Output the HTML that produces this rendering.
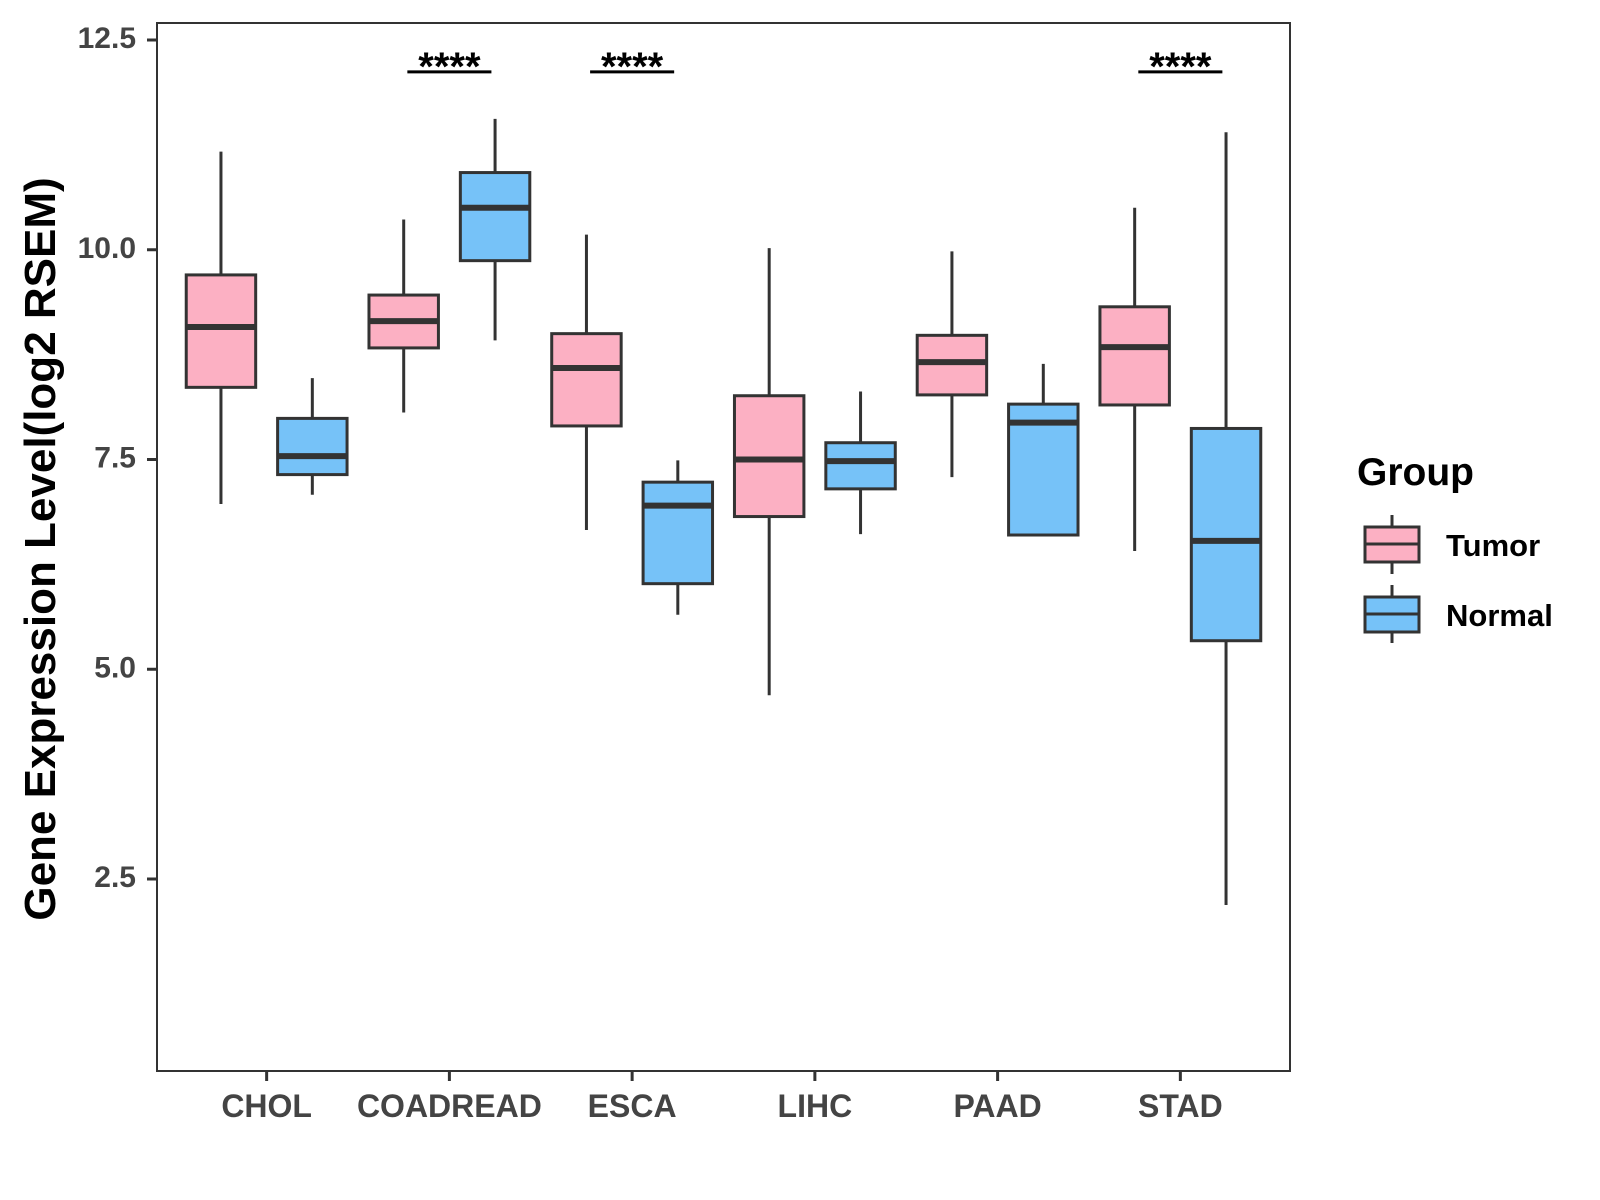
<!DOCTYPE html>
<html><head><meta charset="utf-8"><style>
html,body{margin:0;padding:0;background:#fff;}
svg{display:block;font-family:"Liberation Sans",Arial,sans-serif;}
</style></head><body>
<svg id="chart" width="1600" height="1200" viewBox="0 0 1600 1200" xmlns="http://www.w3.org/2000/svg">
<rect x="0" y="0" width="1600" height="1200" fill="#fff"/>
<g id="marks"></g>
<rect x="157" y="23" width="1133" height="1048" fill="none" stroke="#333" stroke-width="2"/>
<g id="axes"></g>
<text transform="translate(55,549) rotate(-90)" text-anchor="middle" font-size="44" font-weight="bold" fill="#000">Gene Expression Level(log2 RSEM)</text>
<text x="1357" y="485" font-size="39" font-weight="bold" fill="#000">Group</text>
<g>
<line x1="1392" x2="1392" y1="515" y2="574" stroke="#333" stroke-width="3"/>
<rect x="1365" y="527" width="54" height="35" fill="#fcb0c3" stroke="#333" stroke-width="3"/>
<line x1="1365" x2="1419" y1="544" y2="544" stroke="#333" stroke-width="3"/>
<text x="1446" y="556" font-size="31" font-weight="bold" fill="#000">Tumor</text>
</g>
<g>
<line x1="1392" x2="1392" y1="585" y2="643" stroke="#333" stroke-width="3"/>
<rect x="1365" y="597" width="54" height="35" fill="#76c2f8" stroke="#333" stroke-width="3"/>
<line x1="1365" x2="1419" y1="614" y2="614" stroke="#333" stroke-width="3"/>
<text x="1446" y="626" font-size="31" font-weight="bold" fill="#000">Normal</text>
</g>
</svg>
<script>
const categories = ["CHOL","COADREAD","ESCA","LIHC","PAAD","STAD"];
// [lowerWhisker, q1, median, q3, upperWhisker]
const tumorStats = [
  [6.97,8.36,9.08,9.70,11.17],
  [8.06,8.83,9.15,9.46,10.36],
  [6.66,7.90,8.59,9.00,10.18],
  [4.69,6.82,7.50,8.26,10.02],
  [7.29,8.27,8.66,8.98,9.98],
  [6.41,8.15,8.84,9.32,10.50]
];
const normalStats = [
  [7.08,7.32,7.54,7.99,8.47],
  [8.92,9.87,10.50,10.92,11.56],
  [5.65,6.02,6.95,7.23,7.49],
  [6.61,7.15,7.48,7.70,8.31],
  [6.60,6.60,7.94,8.16,8.64],
  [2.19,5.34,6.53,7.87,11.40]
];
const sigLabels = ["","****","****","","","****"];
const sigLevel = 12.12;
const yTicks = [2.5,5.0,7.5,10.0,12.5];
const yTickLabels = ["2.5","5.0","7.5","10.0","12.5"];

const NS="http://www.w3.org/2000/svg";
const plotLeft=157,plotRight=1290,plotTop=23,plotBottom=1071;
const unit=(plotRight-plotLeft)/(categories.length-1+1.2);
function xScale(i){return plotLeft+(0.6+i)*unit;}
function yScale(v){return 40+(12.5-v)*83.9;}
function mk(tag,attrs,parent){const e=document.createElementNS(NS,tag);for(const k in attrs)e.setAttribute(k,attrs[k]);parent.appendChild(e);return e;}
const marks=document.getElementById('marks'),axes=document.getElementById('axes');
const off=0.25*unit,bw=0.38*unit;
function drawBox(s,cx,fill,name){
  const g=mk('g',{},marks);
  
  
  mk('line',{x1:cx,x2:cx,y1:yScale(s[4]),y2:yScale(s[0]),stroke:'#333','stroke-width':3},g);
  mk('rect',{x:cx-bw/2,y:yScale(s[3]),width:bw,height:yScale(s[1])-yScale(s[3]),fill:fill,stroke:'#333','stroke-width':3},g);
  mk('line',{x1:cx-bw/2,x2:cx+bw/2,y1:yScale(s[2]),y2:yScale(s[2]),stroke:'#333','stroke-width':6},g);
}
categories.forEach((c,i)=>{
  const cx=xScale(i);
  drawBox(tumorStats[i],cx-off,'#fcb0c3','box-tumor-'+c.toLowerCase());
  drawBox(normalStats[i],cx+off,'#76c2f8','box-normal-'+c.toLowerCase());
  if(sigLabels[i]){
    const g=mk('g',{},marks);
    
    
    const y=yScale(sigLevel);
    mk('line',{x1:cx-off+0.02*unit,x2:cx+off-0.02*unit,y1:y,y2:y,stroke:'#000','stroke-width':3},g);
    const t=mk('text',{x:cx,y:y+8,'text-anchor':'middle','font-size':40,'font-weight':'bold',fill:'#000'},g);
    t.textContent=sigLabels[i];
  }
  const tk=mk('line',{x1:cx,x2:cx,y1:plotBottom,y2:plotBottom+10,stroke:'#333','stroke-width':3},axes);
  
  
  const lb=mk('text',{x:cx,y:1117,'text-anchor':'middle','font-size':32,'font-weight':'bold',fill:'#444'},axes);
  
  
  lb.textContent=c;
});
yTicks.forEach((v,i)=>{
  const y=yScale(v);
  const tk=mk('line',{x1:plotLeft-10,x2:plotLeft,y1:y,y2:y,stroke:'#333','stroke-width':3},axes);
  
  
  const lb=mk('text',{x:plotLeft-21,y:y+8,'text-anchor':'end','font-size':30,'font-weight':'bold',fill:'#444'},axes);
  
  
  lb.textContent=yTickLabels[i];
});
</script>
</body></html>
